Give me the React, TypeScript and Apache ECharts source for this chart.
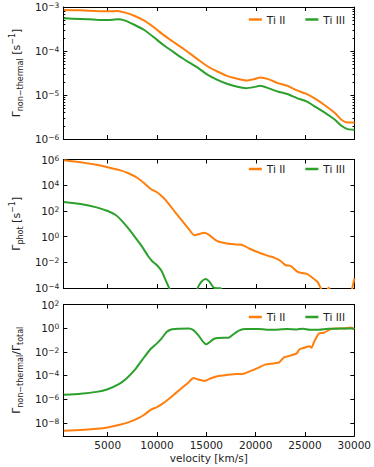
import React, { useEffect, useRef } from "react";
import * as echarts from "echarts";

// ---- Panel 1: non-thermal ionisation rate ----
const velocityNonThermal = [550, 2260, 3870, 5000, 5970, 6770, 7740, 8700, 9670, 10640, 11600, 12570, 13370, 14180, 15140, 16110, 17080, 18040, 19010, 19810, 20460, 21260, 22230, 23190, 24160, 25130, 26090, 27060, 28020, 28670, 29310, 30000];
const nonThermalTiII = [8.55e-4, 8.4e-4, 8.1e-4, 7.97e-4, 8.1e-4, 7.44e-4, 6.25e-4, 4.9e-4, 3.46e-4, 2.32e-4, 1.64e-4, 1.16e-4, 8.6e-5, 6.3e-5, 4.44e-5, 3.42e-5, 2.72e-5, 2.37e-5, 2.14e-5, 2.29e-5, 2.5e-5, 2.29e-5, 1.86e-5, 1.62e-5, 1.27e-5, 1.06e-5, 8.05e-6, 5.69e-6, 3.88e-6, 2.74e-6, 2.38e-6, 2.38e-6];
const nonThermalTiIII = [5.53e-4, 5.35e-4, 5.16e-4, 5.07e-4, 5.25e-4, 4.9e-4, 3.9e-4, 3.0e-4, 2.05e-4, 1.37e-4, 9.7e-5, 6.85e-5, 5.28e-5, 4.07e-5, 2.87e-5, 2.21e-5, 1.8e-5, 1.56e-5, 1.43e-5, 1.51e-5, 1.62e-5, 1.43e-5, 1.2e-5, 1.05e-5, 8.5e-6, 7.13e-6, 5.3e-6, 3.88e-6, 2.74e-6, 2.0e-6, 1.68e-6, 1.63e-6];

// ---- Panel 2: photoionisation rate ----
const velocityPhotTiII = [550, 2260, 3870, 5000, 6130, 7090, 8060, 8700, 9350, 9990, 10640, 11280, 11920, 12570, 13210, 13760, 14340, 14820, 15300, 15790, 16270, 17080, 18040, 18690, 19330, 20300, 21260, 21910, 22550, 23030, 23520, 24160, 24640, 25130, 25770, 26250, 26570, 26900, 27380, 27860, 29470, 29790, 30000];
const photTiII = [8.87e5, 6.19e5, 3.83e5, 2.52e5, 1.56e5, 8.55e4, 3.48e4, 1.42e4, 5.1e3, 2.81e3, 1.07e3, 287, 64.1, 16.1, 3.83, 1.3, 1.66, 1.98, 1.3, 0.634, 0.393, 0.291, 0.243, 0.215, 0.118, 0.0575, 0.0316, 0.0221, 0.0121, 5.9e-3, 5.24e-3, 2.0e-3, 1.49e-3, 1.32e-3, 6.04e-4, 2.94e-4, 1.0e-4, 2.5e-5, 1.05e-4, 2.5e-5, 1.0e-5, 1.12e-4, 5.6e-4];
const velocityPhotTiIII = [550, 2260, 3870, 5000, 5810, 6450, 7090, 7740, 8380, 9030, 9510, 9990, 10470, 10800, 11220, 12570, 13860, 14110, 14500, 14920, 15300, 15790, 16430, 17080, 18360, 30000];
const photTiIII = [493, 344, 189, 97.7, 47.5, 16.1, 4.32, 0.964, 0.215, 0.0356, 0.0121, 5.9e-3, 2.0e-3, 5.36e-4, 1.0e-4, 3.2e-7, 1.0e-5, 1.0e-4, 3.16e-4, 5.0e-4, 3.16e-4, 1.0e-4, 9.5e-5, 1.0e-5, 1.0e-7, 1.0e-8];

// ---- Panel 3: non-thermal fraction ----
const velocityFracTiII = [550, 2260, 3870, 5000, 6130, 7090, 8060, 8700, 9350, 9990, 10640, 11280, 11920, 12570, 13210, 13690, 14180, 14820, 15470, 16110, 17080, 18040, 18690, 19330, 20300, 20940, 21910, 22390, 22870, 23520, 24160, 24480, 24960, 25450, 25670, 25930, 26410, 26900, 27540, 28020, 28990, 29630, 30000];
const fracTiII = [2.12e-9, 2.41e-9, 3.12e-9, 4.05e-9, 6.35e-9, 1.07e-8, 2.32e-8, 4.72e-8, 1.25e-7, 2.09e-7, 4.54e-7, 1.2e-6, 3.37e-6, 9.5e-6, 2.67e-5, 6.19e-5, 4.49e-5, 3.46e-5, 5.81e-5, 8.57e-5, 1.11e-4, 1.35e-4, 1.35e-4, 2.12e-4, 4.6e-4, 8.24e-4, 1.07e-3, 1.29e-3, 3.42e-3, 4.72e-3, 7.43e-3, 0.0172, 0.0223, 0.0289, 0.0223, 0.0714, 0.36, 0.409, 0.782, 0.951, 0.951, 1.15, 0.782];
const velocityFracTiIII = [550, 2260, 3870, 5000, 6130, 6930, 7740, 8540, 9350, 9990, 10470, 10960, 11440, 12250, 13210, 13690, 14180, 14660, 14980, 15300, 15790, 16750, 17240, 17720, 18360, 19010, 20300, 21580, 23190, 24160, 24800, 25450, 26410, 27380, 28020, 28990, 30000];
const fracTiIII = [2.29e-6, 2.78e-6, 4.09e-6, 6.87e-6, 1.81e-5, 5.81e-5, 2.92e-4, 2.32e-3, 0.0172, 0.0516, 0.136, 0.467, 0.782, 0.889, 0.951, 0.687, 0.261, 0.0714, 0.0426, 0.0628, 0.128, 0.155, 0.155, 0.296, 0.644, 0.834, 0.834, 0.733, 0.834, 0.782, 0.889, 0.733, 0.733, 0.889, 0.889, 0.951, 0.951];

// ---- Ticks ----
const velocityTicks = [5000, 10000, 15000, 20000, 25000, 30000];
const nonThermalTicks = [1e-6, 1e-5, 1e-4, 1e-3];
const nonThermalMinorTicks = [2e-6, 3e-6, 4e-6, 5e-6, 6e-6, 7e-6, 8e-6, 9e-6, 2e-5, 3e-5, 4e-5, 5e-5, 6e-5, 7e-5, 8e-5, 9e-5, 2e-4, 3e-4, 4e-4, 5e-4, 6e-4, 7e-4, 8e-4, 9e-4];
const photTicks = [1e-4, 1e-2, 1, 1e2, 1e4, 1e6];
const fracTicks = [1e-8, 1e-6, 1e-4, 1e-2, 1, 1e2];
const seriesNames = ["Ti II", "Ti III"];

const ORANGE = "#ff7f0e";
const GREEN = "#2ca02c";
const FONT = "DejaVu Sans";
const TEXT = "#222";

const zip = (xs: number[], ys: number[]) => xs.map((x, i) => [x, ys[i]]);

const powLabel = (v: number) => {
  const e = Math.round(Math.log10(v));
  return "10{s|" + (e < 0 ? "\u2212" : "") + Math.abs(e) + "}";
};

const labelRich = {
  s: { fontSize: 7.5, fontFamily: FONT, color: TEXT, verticalAlign: "top", lineHeight: 8 },
};

const nameRich = {
  sub: { fontSize: 8, fontFamily: FONT, color: TEXT, verticalAlign: "bottom", lineHeight: 9 },
  sup: { fontSize: 8, fontFamily: FONT, color: TEXT, verticalAlign: "top", lineHeight: 9 },
};

const grids = [
  { left: 48.5, width: 306, top: 7, height: 132 },
  { left: 48.5, width: 306, top: 159.5, height: 128.5 },
  { left: 48.5, width: 306, top: 304.5, height: 131.5 },
];

function makeX(gridIndex: number, position: "top" | "bottom", withLabels: boolean) {
  return {
    type: "value",
    gridIndex,
    position,
    min: 500,
    max: 30000,
    axisLine: { show: true, onZero: false, lineStyle: { color: "#000", width: 1 } },
    axisTick: { show: true, inside: true, length: 4, customValues: velocityTicks, lineStyle: { color: "#000" } },
    axisLabel: {
      show: withLabels,
      customValues: velocityTicks,
      formatter: (v: number) => String(Math.round(v)),
      fontFamily: FONT,
      fontSize: 10.5,
      color: TEXT,
      margin: 3,
    },
    splitLine: { show: false },
    name: withLabels ? "velocity [km/s]" : "",
    nameLocation: "middle",
    nameGap: 16,
    nameTextStyle: { fontFamily: FONT, fontSize: 10.5, color: TEXT },
  };
}

function makeY(
  gridIndex: number,
  position: "left" | "right",
  min: number,
  max: number,
  ticks: number[],
  opts: { labels?: boolean; name?: string; tickLen?: number; line?: boolean } = {}
) {
  return {
    type: "log",
    logBase: 10,
    gridIndex,
    position,
    min,
    max,
    axisLine: { show: opts.line !== false, onZero: false, lineStyle: { color: "#000", width: 1 } },
    axisTick: { show: true, inside: true, length: opts.tickLen ?? 4, customValues: ticks, lineStyle: { color: "#000" } },
    axisLabel: {
      show: !!opts.labels,
      customValues: ticks,
      formatter: powLabel,
      fontFamily: FONT,
      fontSize: 10.5,
      color: TEXT,
      margin: 4,
      rich: labelRich,
    },
    splitLine: { show: false },
    minorTick: { show: false },
    name: opts.name || "",
    nameLocation: "middle",
    nameRotate: 90,
    nameGap: 30,
    nameTextStyle: { fontFamily: FONT, fontSize: 11, color: TEXT, lineHeight: 16, rich: nameRich },
  };
}

function makeLegend(top: number) {
  return {
    data: seriesNames,
    top,
    right: 29,
    orient: "horizontal",
    icon: "rect",
    itemWidth: 13,
    itemHeight: 2.5,
    itemGap: 20,
    padding: 0,
    selectedMode: false,
    textStyle: { fontFamily: FONT, fontSize: 10.5, color: TEXT },
  };
}

function line(name: string, color: string, xi: number, yi: number, data: number[][]) {
  return {
    name,
    type: "line",
    xAxisIndex: xi,
    yAxisIndex: yi,
    data,
    showSymbol: false,
    smooth: 0.2,
    clip: true,
    color,
    lineStyle: { color, width: 2 },
  };
}

export default function App() {
  const ref = useRef<HTMLDivElement>(null);
  useEffect(() => {
    if (!ref.current) return;
    const chart = echarts.init(ref.current, undefined, { renderer: "svg" });
    const option = {
      animation: false,
      backgroundColor: "#fff",
      textStyle: { fontFamily: FONT },
      grid: grids,
      legend: [makeLegend(14), makeLegend(163.5), makeLegend(311.5)],
      xAxis: [
        makeX(0, "bottom", false),
        makeX(0, "top", false),
        makeX(1, "bottom", false),
        makeX(1, "top", false),
        makeX(2, "bottom", true),
        makeX(2, "top", false),
      ],
      yAxis: [
        makeY(0, "left", 1e-6, 1e-3, nonThermalTicks, {
          labels: true,
          name: "\u0393{sub|non\u2212thermal} [s{sup|\u22121}]",
        }),
        makeY(0, "right", 1e-6, 1e-3, nonThermalTicks),
        makeY(0, "left", 1e-6, 1e-3, nonThermalMinorTicks, { tickLen: 2, line: false }),
        makeY(0, "right", 1e-6, 1e-3, nonThermalMinorTicks, { tickLen: 2, line: false }),
        makeY(1, "left", 1e-4, 1e6, photTicks, {
          labels: true,
          name: "\u0393{sub|phot} [s{sup|\u22121}]",
        }),
        makeY(1, "right", 1e-4, 1e6, photTicks),
        makeY(2, "left", 7.6e-10, 100, fracTicks, {
          labels: true,
          name: "\u0393{sub|non\u2212thermal}/\u0393{sub|total}",
        }),
        makeY(2, "right", 7.6e-10, 100, fracTicks),
      ],
      series: [
        line("Ti II", ORANGE, 0, 0, zip(velocityNonThermal, nonThermalTiII)),
        line("Ti III", GREEN, 0, 0, zip(velocityNonThermal, nonThermalTiIII)),
        line("Ti II", ORANGE, 2, 4, zip(velocityPhotTiII, photTiII)),
        line("Ti III", GREEN, 2, 4, zip(velocityPhotTiIII, photTiIII)),
        line("Ti II", ORANGE, 4, 6, zip(velocityFracTiII, fracTiII)),
        line("Ti III", GREEN, 4, 6, zip(velocityFracTiIII, fracTiIII)),
      ],
    };
    chart.setOption(option as any);
    return () => chart.dispose();
  }, []);
  return <div ref={ref} style={{ width: 374, height: 467, position: "absolute", left: 0, top: 0 }} />;
}
